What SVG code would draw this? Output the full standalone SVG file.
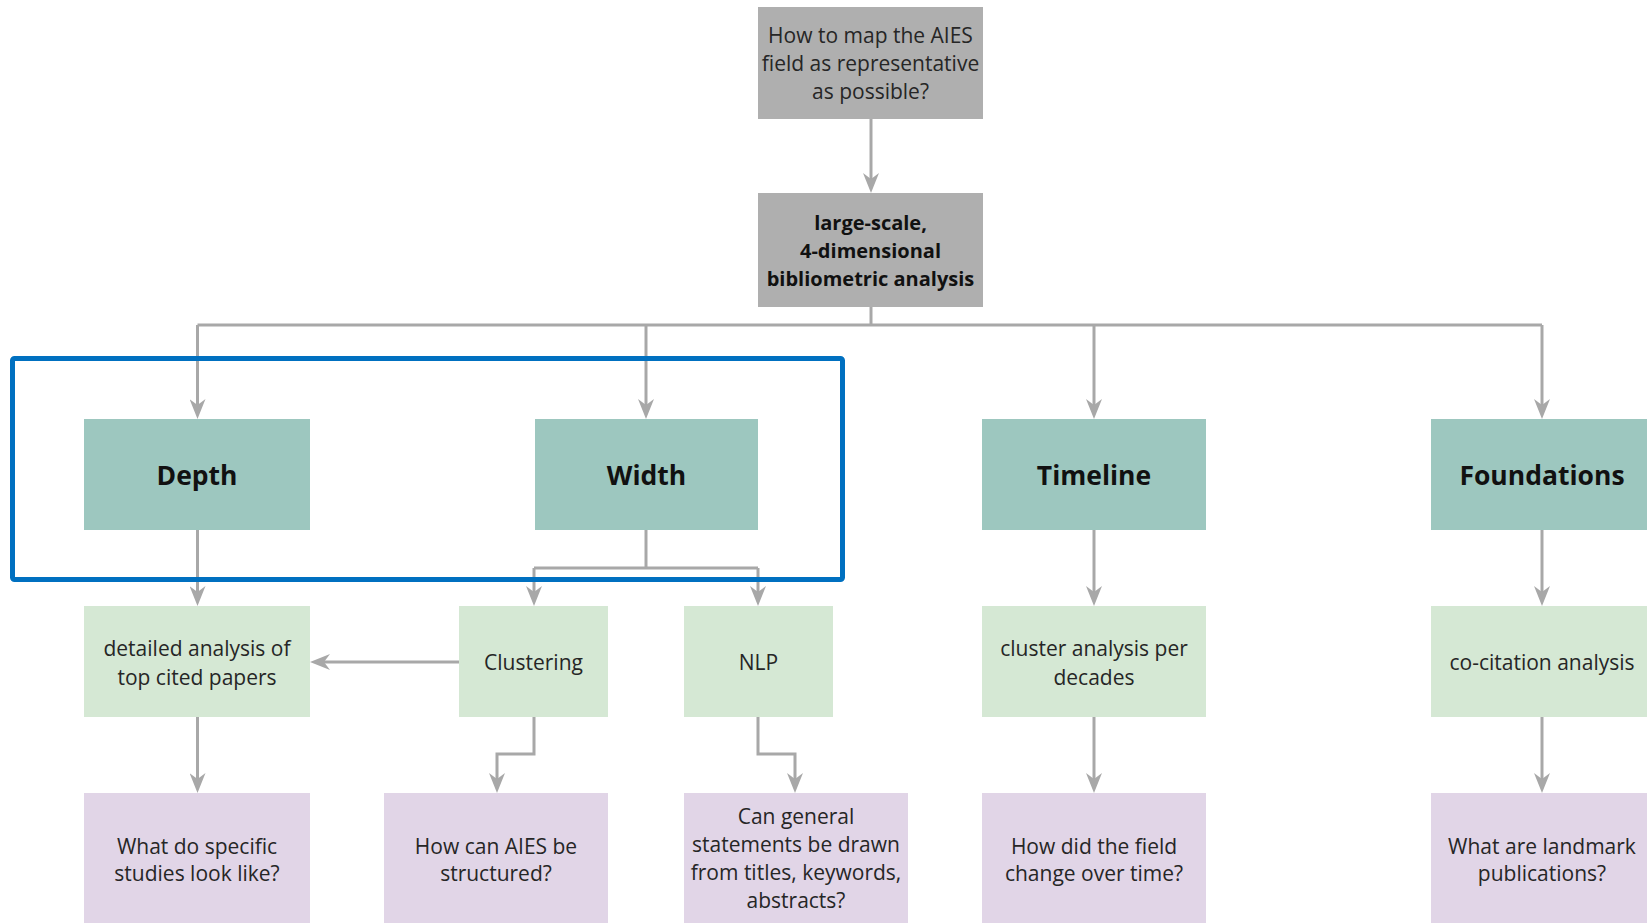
<svg xmlns="http://www.w3.org/2000/svg" width="1647" height="923" viewBox="0 0 1647 923">
<defs>
<style>
.box{stroke:none}
.gray{fill:#AFAFAF}
.teal{fill:#9DC7BF}
.green{fill:#D5E8D4}
.purple{fill:#E1D5E7}
text{font-family:"Open Sans","Liberation Sans",sans-serif;text-anchor:middle;fill:#262626}
.t{font-size:21px}
.b{font-size:20px;font-weight:bold;fill:#111}
.h{font-size:26.5px;font-weight:bold;fill:#111}
.c{fill:none;stroke:#A8A8A8;stroke-width:3}
.a{marker-end:url(#arr)}
</style>
<marker id="arr" viewBox="0 0 20 16" refX="14" refY="8" markerWidth="20" markerHeight="16" markerUnits="userSpaceOnUse" orient="auto">
<path d="M0,0 L20,8 L0,16 L6,8 z" fill="#A8A8A8"/>
</marker>
</defs>
<rect width="1647" height="923" fill="#fff"/>

<g id="connectors">
<path class="c a" d="M871,119 V187"/>
<path class="c" d="M871,307 V325"/>
<path class="c" d="M197.5,325 H1542"/>
<path class="c a" d="M197.5,325 V413"/>
<path class="c a" d="M646,325 V413"/>
<path class="c a" d="M1094,325 V413"/>
<path class="c a" d="M1542,325 V413"/>
<path class="c a" d="M197.5,530 V600"/>
<path class="c" d="M646,530 V568"/>
<path class="c" d="M534,568 H758"/>
<path class="c a" d="M534,568 V600"/>
<path class="c a" d="M758,568 V600"/>
<path class="c a" d="M1094,530 V600"/>
<path class="c a" d="M1542,530 V600"/>
<path class="c a" d="M459,662 H316"/>
<path class="c a" d="M197.5,717 V787"/>
<path class="c a" d="M534,717 V754 H497 V787"/>
<path class="c a" d="M758,717 V754 H795 V787"/>
<path class="c a" d="M1094,717 V787"/>
<path class="c a" d="M1542,717 V787"/>
</g>

<g id="n-question">
<rect class="box gray" x="758" y="7" width="225" height="112"/>
<text class="t" x="870.5" y="43">How to map the AIES</text>
<text class="t" x="870.5" y="71">field as representative</text>
<text class="t" x="870.5" y="99">as possible?</text>
</g>
<g id="n-analysis">
<rect class="box gray" x="758" y="193" width="225" height="114"/>
<text class="b" x="870.5" y="230">large-scale,</text>
<text class="b" x="870.5" y="258">4-dimensional</text>
<text class="b" x="870.5" y="286">bibliometric analysis</text>
</g>

<g id="n-depth">
<rect class="box teal" x="84" y="419" width="226" height="111"/>
<text class="h" x="197" y="485">Depth</text>
</g>
<g id="n-width">
<rect class="box teal" x="535" y="419" width="223" height="111"/>
<text class="h" x="646.5" y="485">Width</text>
</g>
<g id="n-timeline">
<rect class="box teal" x="982" y="419" width="224" height="111"/>
<text class="h" x="1094" y="485">Timeline</text>
</g>
<g id="n-foundations">
<rect class="box teal" x="1431" y="419" width="224" height="111"/>
<text class="h" x="1542" y="485">Foundations</text>
</g>

<g id="n-detailed">
<rect class="box green" x="84" y="606" width="226" height="111"/>
<text class="t" x="197" y="656">detailed analysis of</text>
<text class="t" x="197" y="685">top cited papers</text>
</g>
<g id="n-clustering">
<rect class="box green" x="459" y="606" width="149" height="111"/>
<text class="t" x="533.5" y="670">Clustering</text>
</g>
<g id="n-nlp">
<rect class="box green" x="684" y="606" width="149" height="111"/>
<text class="t" x="758.5" y="670">NLP</text>
</g>
<g id="n-cluster-decades">
<rect class="box green" x="982" y="606" width="224" height="111"/>
<text class="t" x="1094" y="656">cluster analysis per</text>
<text class="t" x="1094" y="685">decades</text>
</g>
<g id="n-cocitation">
<rect class="box green" x="1431" y="606" width="224" height="111"/>
<text class="t" x="1542" y="670">co-citation analysis</text>
</g>

<g id="q-depth">
<rect class="box purple" x="84" y="793" width="226" height="140"/>
<text class="t" x="197" y="854">What do specific</text>
<text class="t" x="197" y="881">studies look like?</text>
</g>
<g id="q-clustering">
<rect class="box purple" x="384" y="793" width="224" height="140"/>
<text class="t" x="496" y="854">How can AIES be</text>
<text class="t" x="496" y="881">structured?</text>
</g>
<g id="q-nlp">
<rect class="box purple" x="684" y="793" width="224" height="140"/>
<text class="t" x="796" y="824">Can general</text>
<text class="t" x="796" y="852">statements be drawn</text>
<text class="t" x="796" y="880">from titles, keywords,</text>
<text class="t" x="796" y="908">abstracts?</text>
</g>
<g id="q-timeline">
<rect class="box purple" x="982" y="793" width="224" height="140"/>
<text class="t" x="1094" y="854">How did the field</text>
<text class="t" x="1094" y="881">change over time?</text>
</g>
<g id="q-foundations">
<rect class="box purple" x="1431" y="793" width="224" height="140"/>
<text class="t" x="1542" y="854">What are landmark</text>
<text class="t" x="1542" y="881">publications?</text>
</g>

<rect id="highlight" x="12.5" y="358.5" width="830" height="221" rx="2" fill="none" stroke="#0070C0" stroke-width="5"/>
</svg>
